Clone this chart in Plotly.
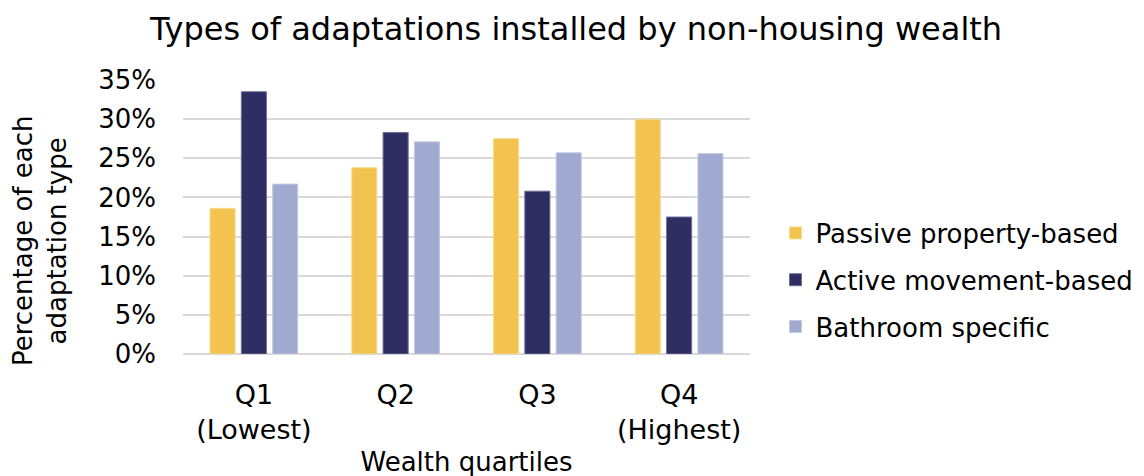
import plotly.graph_objects as go

categories = ["Q1<br>(Lowest)", "Q2", "Q3", "Q4<br>(Highest)"]
series_names = ["Passive property-based", "Active movement-based", "Bathroom specific"]
passive = [0.186, 0.238, 0.275, 0.300]
active = [0.335, 0.283, 0.208, 0.175]
bathroom = [0.217, 0.271, 0.257, 0.256]
colors = ["#F2C34E", "#2E2E62", "#A0A9CF"]
line_colors = ["#F7DA8E", "#6E6E96", "#C4CAE3"]

FONT = "Verdana, DejaVu Sans, sans-serif"
FS = 26

fig = go.Figure()
for i, (name, vals) in enumerate(zip(series_names, [passive, active, bathroom])):
    fig.add_trace(go.Bar(
        x=categories, y=vals, name=name,
        marker=dict(color=colors[i], line=dict(color=line_colors[i], width=1)),
        legendgroup=name,
    ))

fig.update_layout(
    width=1144, height=476,
    margin=dict(l=175, r=402, t=72, b=130, autoexpand=False),
    paper_bgcolor="white", plot_bgcolor="white",
    font=dict(family=FONT, size=FS, color="#000000"),
    barmode="group", bargap=0.337, bargroupgap=0.2,
    title=dict(text="Types of adaptations installed by non-housing wealth",
               x=0.4965, xref="container", xanchor="center",
               y=0.956, yref="container", yanchor="middle",
               font=dict(family=FONT, size=32, color="#000000")),
    legend=dict(x=1.045, xanchor="left", y=0.27, yanchor="middle",
                font=dict(family=FONT, size=FS, color="#000000"),
                tracegroupgap=10, traceorder="grouped",
                bgcolor="rgba(0,0,0,0)"),
    showlegend=True,
    annotations=[dict(text="Percentage of each<br>adaptation type",
                      textangle=-90, xref="paper", yref="paper",
                      x=(32 - 175) / 567, y=0.412,
                      xanchor="center", yanchor="middle", showarrow=False,
                      font=dict(family=FONT, size=FS, color="#000000"))],
)
fig.update_yaxes(range=[0, 0.35], dtick=0.05, tickformat=".0%",
                 showgrid=True, gridcolor="#D9D9D9", gridwidth=2,
                 zeroline=True, zerolinecolor="#D9D9D9", zerolinewidth=2,
                 showline=False, ticks="", ticklabelstandoff=26)
fig.update_xaxes(showgrid=False, showline=False, ticks="",
                 ticklabelstandoff=22, tickfont=dict(size=27),
                 title=dict(text="Wealth quartiles", font=dict(family=FONT, size=FS),
                            standoff=8))

fig.write_html("out.html")
